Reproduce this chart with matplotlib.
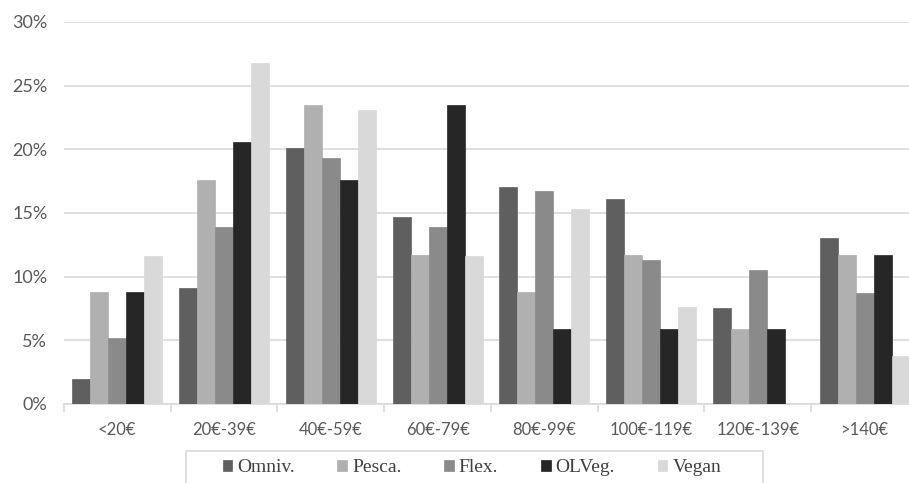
import numpy as np
import matplotlib.pyplot as plt
from matplotlib.patches import Rectangle
from matplotlib.ticker import FixedLocator, PercentFormatter

# price ranges and share of respondents per diet group (%)
categories = ["<20€", "20€-39€", "40€-59€", "60€-79€", "80€-99€",
              "100€-119€", "120€-139€", ">140€"]
omniv = [2.0, 9.1, 20.1, 14.7, 17.0, 16.1, 7.5, 13.0]
pesca = [8.8, 17.6, 23.5, 11.7, 8.8, 11.7, 5.9, 11.7]
flex = [5.2, 13.9, 19.3, 13.9, 16.7, 11.3, 10.5, 8.7]
olveg = [8.8, 20.6, 17.6, 23.5, 5.9, 5.9, 5.9, 11.7]
vegan = [11.6, 26.8, 23.1, 11.6, 15.3, 7.6, 0.0, 3.8]

series = [("Omniv.", omniv, "#5f5f5f"),
          ("Pesca.", pesca, "#b0b0b0"),
          ("Flex.", flex, "#8a8a8a"),
          ("OLVeg.", olveg, "#262626"),
          ("Vegan", vegan, "#d9d9d9")]

fig = plt.figure(figsize=(9.09, 4.83), dpi=100)
ax = fig.add_axes([0.0704, 0.1636, 0.9395, 0.791])

x = np.arange(len(categories))
w = 0.169
for i, (name, vals, col) in enumerate(series):
    ax.bar(x + (i - 2) * w, vals, w, color=col, label=name,
           edgecolor=col, linewidth=0.5, zorder=3)

ax.set_xlim(-0.5, len(categories) - 0.5)
ax.set_ylim(0, 30)
ax.set_yticks(np.arange(0, 31, 5))
ax.yaxis.set_major_formatter(PercentFormatter(decimals=0))
ax.grid(axis="y", color="#d9d9d9", linewidth=1.2, zorder=0)

for s in ["top", "right", "left"]:
    ax.spines[s].set_visible(False)
ax.spines["bottom"].set_color("#d9d9d9")
ax.spines["bottom"].set_linewidth(1.2)

ax.set_xticks(x)
ax.set_xticklabels(categories)
ax.xaxis.set_minor_locator(FixedLocator(np.arange(-0.5, len(categories), 1)))
ax.tick_params(axis="x", which="major", length=0, pad=13,
               labelsize=12, labelcolor="#595959")
ax.tick_params(axis="x", which="minor", length=6, color="#d9d9d9", width=1.2)
ax.tick_params(axis="y", length=0, pad=12, labelsize=13, labelcolor="#595959")
for lab in ax.get_xticklabels() + ax.get_yticklabels():
    lab.set_family(["Lato", "DejaVu Sans"])

# legend box, cut off by the bottom edge of the picture
fig.patches.append(Rectangle((186 / 909, -0.05), (763 - 186) / 909,
                             0.05 + 1 - 451 / 483, transform=fig.transFigure,
                             fill=False, edgecolor="#d9d9d9", linewidth=1.2))
leg = fig.legend(loc="center", bbox_to_anchor=((186 + 763) / 2 / 909 - 0.003, 1 - 468 / 483),
                 ncol=5, frameon=False,
                 prop={"family": "Liberation Serif", "size": 14},
                 handlelength=0.5, handleheight=0.5, handletextpad=0.25,
                 columnspacing=2.2, borderpad=0, borderaxespad=0)
for t in leg.get_texts():
    t.set_color("#404040")

fig.savefig("out.png", dpi=100)
